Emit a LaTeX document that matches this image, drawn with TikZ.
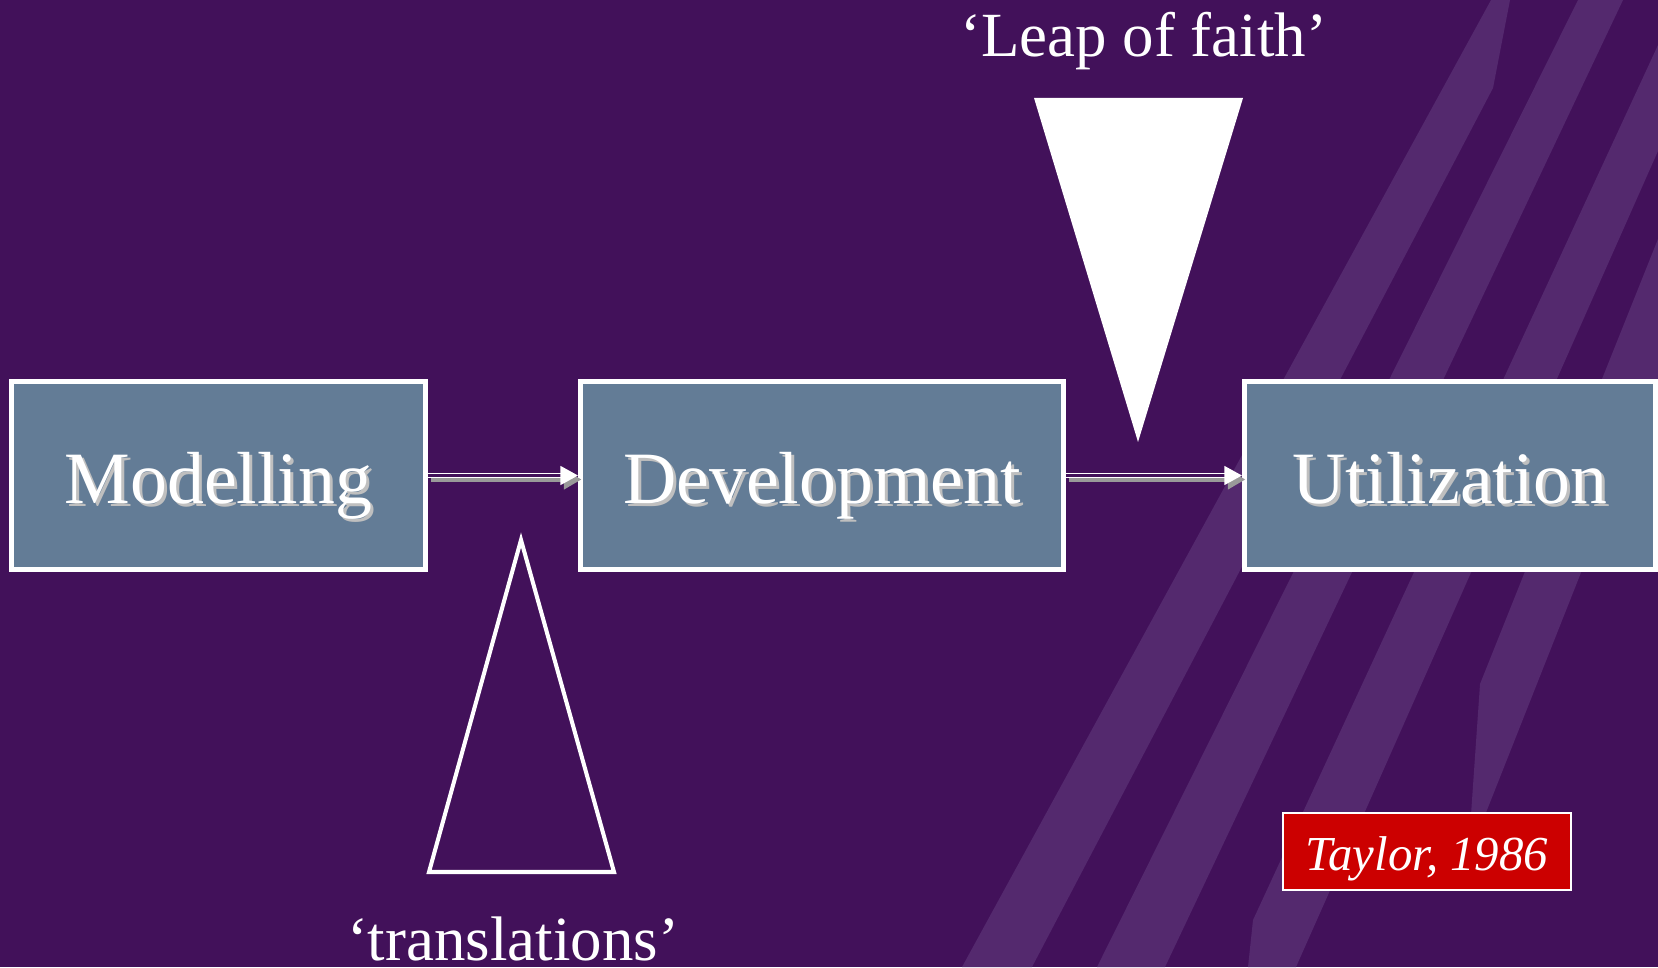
\documentclass[tikz,border=0pt]{standalone}
\usepackage{fontspec}
\setmainfont{Liberation Serif}
\usetikzlibrary{positioning,arrows.meta}

\definecolor{slidebg}{RGB}{66,17,90}
\definecolor{stripe}{RGB}{84,41,110}
\definecolor{stagefill}{RGB}{99,124,150}
\definecolor{citered}{RGB}{204,0,0}

\begin{document}
\begin{tikzpicture}[
    node distance=1.5cm,
    stagebox/.style={rectangle, draw=white, line width=1.4pt, fill=stagefill, minimum height=1.88cm, inner sep=0pt},
    stagetext/.style={text=white, font=\fontsize{21}{25}\selectfont, anchor=base, inner sep=0pt},
    stageshade/.style={stagetext, text=black!25},
    flow/.style={draw=white, line width=0.45pt, double=slidebg, double distance=0.6pt, -{Triangle[length=5pt,width=5.4pt]}},
    flowshade/.style={draw=black!40, line width=1.2pt, -{Triangle[length=5pt,width=5.4pt]}, transform canvas={shift={(0.035,-0.04)}}},
    note/.style={text=white, font=\fontsize{17.9}{21}\selectfont, anchor=base, inner sep=0pt}
]
    % background with the light stripes on the right
    \fill[slidebg] (0,0) rectangle (16.58,9.67);
    \useasboundingbox (0,0) rectangle (16.58,9.67);
    \fill[stripe] (9.62,0) -- (14.91,9.67) -- (15.10,9.67) -- (14.93,8.79) -- (10.32,0) -- cycle;
    \fill[stripe] (10.97,0) -- (15.78,9.67) -- (16.23,9.67) -- (11.65,0) -- cycle;
    \fill[stripe] (12.48,0) -- (12.53,0.47) -- (16.58,9.22) -- (16.58,8.16) -- (12.96,0) -- cycle;
    \fill[stripe] (14.68,1.09) -- (14.80,2.83) -- (16.58,7.28) -- (16.58,5.89) -- cycle;

    % the three stages
    \node[stagebox, minimum width=4.14cm] (model) at (2.185,4.915) {};
    \node[stagebox, minimum width=4.83cm, right=of model] (devel) {};
    \node[stagebox, minimum width=4.11cm, right=1.76cm of devel] (util) {};

    \node[stageshade] (model-sh) at ([xshift=0.03cm,yshift=-0.31cm]model.center) {Modelling};
    \node[stagetext] (model-txt) at ([yshift=-0.28cm]model.center) {Modelling};
    \node[stageshade] (devel-sh) at ([xshift=0.03cm,yshift=-0.31cm]devel.center) {Development};
    \node[stagetext] (devel-txt) at ([yshift=-0.28cm]devel.center) {Development};
    \node[stageshade] (util-sh) at ([xshift=0.03cm,yshift=-0.31cm]util.center) {Utilization};
    \node[stagetext] (util-txt) at ([yshift=-0.28cm]util.center) {Utilization};

    \draw[flowshade] (model.east) -- (devel.west);
    \draw[flow] (model.east) -- (devel.west);
    \draw[flowshade] (devel.east) -- (util.west);
    \draw[flow] (devel.east) -- (util.west);

    % wedges
    \fill[white] (10.34,8.69) -- (12.43,8.69) -- (11.38,5.25) -- cycle;
    \draw[white, line width=1.15pt] (5.21,4.27) -- (6.14,0.95) -- (4.29,0.95) -- cycle;

    \node[note] (leap) at (11.435,9.10) {‘Leap of faith’};
    \node[note] (transl) at (5.13,0.07) {‘translations’};

    \node[draw=white, line width=0.57pt, fill=citered, minimum width=2.88cm, minimum height=0.77cm,
          inner sep=0pt, text=white, text height=10.8pt, text depth=0pt,
          font=\fontsize{13.9}{16}\selectfont\itshape] (cite) at (14.27,1.155) {Taylor, 1986};
\end{tikzpicture}
\end{document}
